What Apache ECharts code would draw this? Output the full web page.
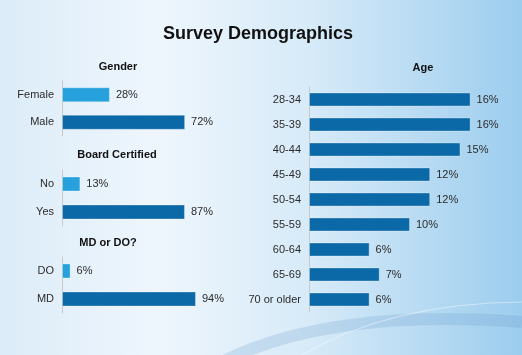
<!DOCTYPE html>
<html><head><meta charset="utf-8">
<script src="https://cdn.jsdelivr.net/npm/echarts@6/dist/echarts.min.js"></script>
<style>html,body{margin:0;padding:0;}#c{width:522px;height:355px;}</style>
</head><body><div id="c"></div>
<script>
var genderCats = ['Female', 'Male'];
var genderVals = [28, 72];
var boardCats = ['No', 'Yes'];
var boardVals = [13, 87];
var degreeCats = ['DO', 'MD'];
var degreeVals = [6, 94];
var ageCats = ['28-34', '35-39', '40-44', '45-49', '50-54', '55-59', '60-64', '65-69', '70 or older'];
var ageVals = [16, 16, 15, 12, 12, 10, 6, 7, 6];

var LIGHT = '#27a1dc', DARK = '#0b69a7';
var FONT = '"Liberation Sans Narrow", "Liberation Sans", Arial, sans-serif';

function colored(vals, firstLight) {
  return vals.map(function (v, i) {
    return { value: v, itemStyle: { color: (firstLight && i === 0) ? LIGHT : DARK } };
  });
}

var grids = [
  { left: 62, width: 171, top: 81, height: 55 },
  { left: 62, width: 171, top: 170, height: 56 },
  { left: 62, width: 171, top: 257, height: 56 },
  { left: 309, width: 202, top: 87, height: 225 }
];
var maxes = [100, 121, 120, 20];
var catsList = [genderCats, boardCats, degreeCats, ageCats];
var valsList = [genderVals, boardVals, degreeVals, ageVals];

var xAxes = [], yAxes = [], series = [];
for (var i = 0; i < 4; i++) {
  xAxes.push({ type: 'value', gridIndex: i, min: 0, max: maxes[i], show: false });
  yAxes.push({
    type: 'category', gridIndex: i, data: catsList[i], inverse: true,
    axisLine: { show: true, lineStyle: { color: '#c9c9c9', width: 1 } },
    axisTick: { show: false },
    axisLabel: { margin: 8, color: '#2b2b2b', fontSize: 11, fontFamily: FONT }
  });
  series.push({
    type: 'bar', xAxisIndex: i, yAxisIndex: i,
    data: colored(valsList[i], i < 3),
    barWidth: i === 3 ? 14 : 15,
    itemStyle: { borderColor: 'rgba(255,255,255,0.3)', borderWidth: 1 },
    label: { show: true, position: 'right', distance: 6, formatter: '{c}%',
      color: '#2b2b2b', fontSize: 11, fontFamily: FONT },
    silent: true, animation: false
  });
}

function head(text, x, y) {
  return { type: 'text', x: x, y: y, z: 10,
    style: { text: text, textAlign: 'center', textVerticalAlign: 'middle',
      font: 'bold 11px ' + FONT, fill: '#111' } };
}

var chart = echarts.init(document.getElementById('c'));
chart.setOption({
  animation: false,
  graphic: [
    { type: 'rect', z: -10, silent: true, shape: { x: 0, y: 0, width: 522, height: 355 },
      style: { fill: { type: 'linear', x: 0, y: 0, x2: 1, y2: 0, colorStops: [
        { offset: 0, color: '#dcecf8' },
        { offset: 0.3, color: '#eef6fd' },
        { offset: 0.6, color: '#d6eaf8' },
        { offset: 1, color: '#9ccdee' }
      ] } } },
    { type: 'bezierCurve', z: -9, silent: true,
      shape: { x1: 222, y1: 362, cpx1: 330, cpy1: 308, x2: 522, y2: 322 },
      style: { stroke: 'rgba(100,150,200,0.22)', lineWidth: 12, fill: null } },
    { type: 'bezierCurve', z: -9, silent: true,
      shape: { x1: 300, y1: 356, cpx1: 390, cpy1: 303, x2: 522, y2: 302 },
      style: { stroke: 'rgba(255,255,255,0.45)', lineWidth: 1, fill: null } },
    { type: 'text', x: 258, y: 34, z: 10,
      style: { text: 'Survey Demographics', textAlign: 'center', textVerticalAlign: 'middle',
        font: 'bold 18px "Liberation Sans", Arial, sans-serif', fill: '#111' } },
    head('Gender', 118, 67),
    head('Board Certified', 117, 155),
    head('MD or DO?', 108, 243),
    head('Age', 423, 68)
  ],
  grid: grids,
  xAxis: xAxes,
  yAxis: yAxes,
  series: series
});
</script>
</body></html>
